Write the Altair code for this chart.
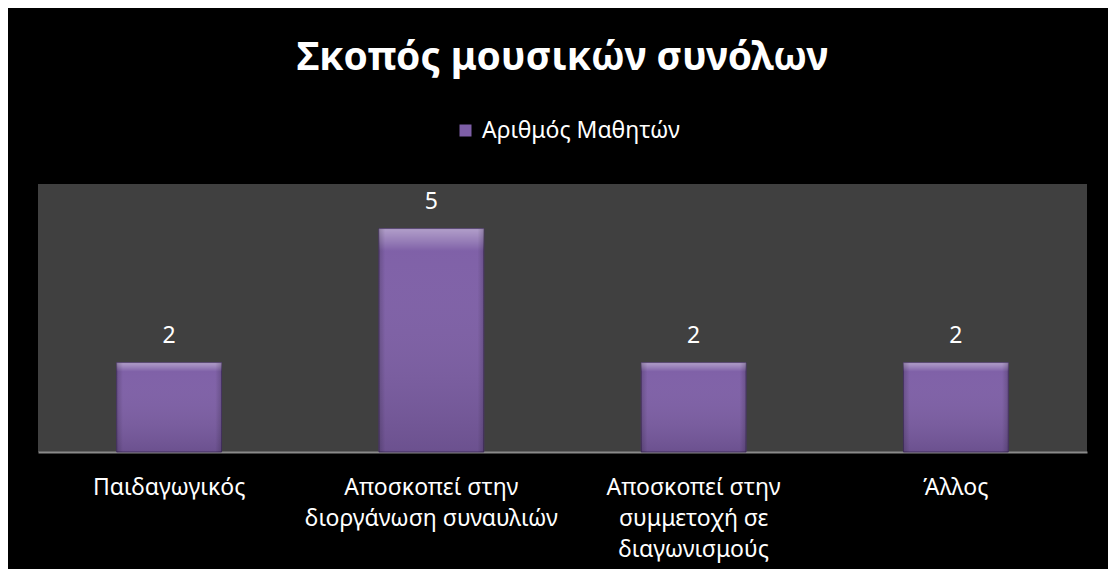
import altair as alt
import pandas as pd

categories = [
    "Παιδαγωγικός",
    "Αποσκοπεί στην\nδιοργάνωση συναυλιών",
    "Αποσκοπεί στην\nσυμμετοχή σε\nδιαγωνισμούς",
    "Άλλος",
]
values = [2, 5, 2, 2]
series_name = "Αριθμός Μαθητών"
title_text = "Σκοπός μουσικών συνόλων"

df = pd.DataFrame({"cat": categories, "value": values, "series": [series_name] * len(values)})

FONT = "Noto Sans"

x_enc = alt.X(
    "cat:N",
    sort=categories,
    title=None,
    scale=alt.Scale(paddingInner=0.6, paddingOuter=0.3),
    axis=alt.Axis(
        labelExpr="split(datum.label, '\\n')",
        labelAngle=0,
        labelColor="white",
        labelFont=FONT,
        labelFontSize=23,
        labelLineHeight=31,
        labelPadding=24,
        labelLimit=400,
        ticks=False,
        tickSize=0,
        domainColor="#8a8a8a",
        domainWidth=2,
        grid=False,
    ),
)
y_enc = alt.Y("value:Q", scale=alt.Scale(domain=[0, 6]), axis=None)

base = alt.Chart(df)

bars = base.mark_bar(stroke="#4a3568", strokeWidth=1).encode(
    x=x_enc,
    y=y_enc,
    color=alt.Color(
        "series:N",
        scale=alt.Scale(range=["#7d5ea6"]),
        legend=alt.Legend(
            title=None,
            orient="none",
            legendX=416,
            legendY=-65,
            padding=0,
            symbolType="square",
            symbolSize=144,
            symbolStrokeWidth=0,
            labelColor="white",
            labelFont=FONT,
            labelFontSize=23,
            labelOffset=5,
            labelLimit=400,
        ),
    ),
)

shade_v = base.mark_bar(
    color=alt.Gradient(
        gradient="linear",
        x1=0, x2=0, y1=0, y2=1,
        stops=[
            alt.GradientStop(offset=0, color="rgba(255,255,255,0.40)"),
            alt.GradientStop(offset=0.05, color="rgba(255,255,255,0.22)"),
            alt.GradientStop(offset=0.10, color="rgba(255,255,255,0.02)"),
            alt.GradientStop(offset=1, color="rgba(0,0,0,0.14)"),
        ],
    )
).encode(x=alt.X("cat:N", sort=categories), y=y_enc)

shade_h = base.mark_bar(
    color=alt.Gradient(
        gradient="linear",
        x1=0, x2=1, y1=0, y2=0,
        stops=[
            alt.GradientStop(offset=0, color="rgba(0,0,0,0.18)"),
            alt.GradientStop(offset=0.06, color="rgba(0,0,0,0.0)"),
            alt.GradientStop(offset=0.94, color="rgba(0,0,0,0.0)"),
            alt.GradientStop(offset=1, color="rgba(0,0,0,0.18)"),
        ],
    )
).encode(x=alt.X("cat:N", sort=categories), y=y_enc)

labels = base.mark_text(
    color="white", font=FONT, fontSize=23, baseline="alphabetic", dy=-20
).encode(x=alt.X("cat:N", sort=categories), y=y_enc, text="value:Q")

chart = (
    alt.layer(bars, shade_v, shade_h, labels)
    .properties(
        width=1049,
        height=268,
        background="black",
        padding={"left": 30, "top": 176, "right": 21, "bottom": 117},
        autosize=alt.AutoSizeParams(type="none"),
        title=alt.TitleParams(
            text=title_text,
            color="white",
            font=FONT,
            fontSize=39,
            fontWeight="bold",
            anchor="middle",
            offset=41,
        ),
    )
    .configure_view(fill="#404040", stroke=None)
)

chart.save("out.html", embed_options={"renderer": "svg", "actions": False})
